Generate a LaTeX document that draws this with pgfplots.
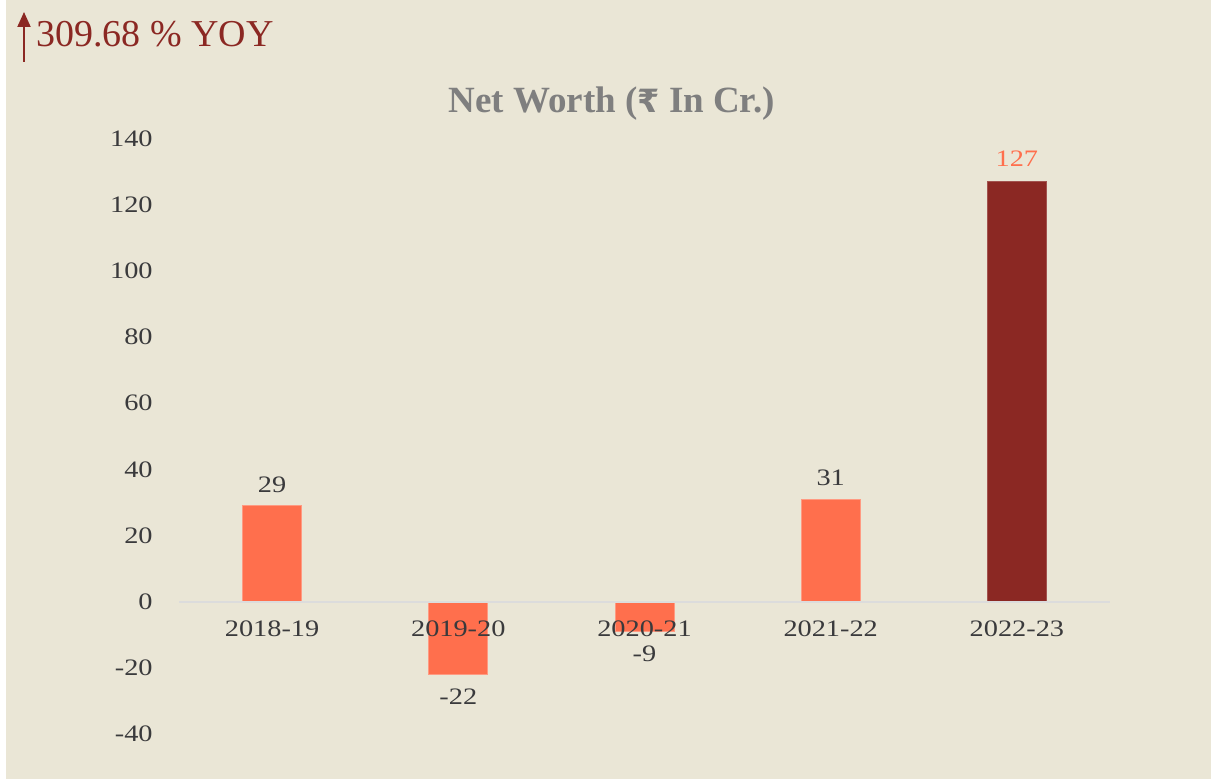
\documentclass[border=0pt]{standalone}
\usepackage{pgfplots}
\pgfplotsset{compat=1.18}
\usepackage{fontspec}
\setmainfont{Liberation Serif}
\newfontfamily\datafont[FakeStretch=1.2]{Liberation Serif}
\newfontfamily\rupeefont{DejaVu Sans}
\usetikzlibrary{arrows.meta}
\definecolor{bg}{RGB}{234,230,214}
\definecolor{barO}{RGB}{255,111,77}
\definecolor{barD}{RGB}{139,40,35}
\definecolor{txt}{RGB}{58,58,60}
\definecolor{ttl}{RGB}{127,127,127}
\definecolor{zl}{RGB}{220,220,220}
\begin{document}
\begin{tikzpicture}
\fill[white] (0,0) rectangle (605.5pt,390pt);
\useasboundingbox (0,0) rectangle (605.5pt,390pt);
\fill[bg] (3pt,0.5pt) rectangle (605.5pt,390pt);
\begin{axis}[
  at={(89.5pt,23pt)}, anchor=south west,
  scale only axis, width=465.5pt, height=297.7pt,
  xmin=-0.5, xmax=4.5, ymin=-40, ymax=140,
  ytick={-40,-20,...,140},
  xtick={0,1,2,3,4},
  xticklabels={2018-19,2019-20,2020-21,2021-22,2022-23},
  axis line style={draw=none},
  axis on top,
  major tick length=0pt, tick style={draw=none},
  ticklabel style={font=\datafont\fontsize{11.8}{14}\selectfont, text=txt},
  yticklabel style={anchor=east, inner sep=0pt, xshift=-13pt},
  xticklabel style={anchor=center, inner sep=0pt, yshift=52.5pt},
  /pgf/number format/assume math mode=true,
  extra y ticks={0}, extra y tick labels={},
  extra y tick style={grid=major, major grid style={draw=zl, line width=1pt}},
  ybar, bar width=29.5pt,
  clip=false,
  nodes near coords style={font=\datafont\fontsize{11.8}{14}\selectfont, text=txt, anchor=center},
]
\addplot[fill=barO, draw=barO!70!white, line width=0.4pt, bar shift=0pt,
  nodes near coords, nodes near coords style={yshift=10.5pt}]
  coordinates {(0,29) (3,31)};
\addplot[fill=barO, draw=barO!70!white, line width=0.4pt, bar shift=0pt,
  nodes near coords, nodes near coords style={yshift=-11pt}]
  coordinates {(1,-22) (2,-9)};
\addplot[fill=barD, draw=barD!80!white, line width=0.4pt, bar shift=0pt,
  nodes near coords, nodes near coords style={yshift=11.5pt, text=barO}]
  coordinates {(4,127)};
\end{axis}
\node[anchor=base, font=\bfseries\fontsize{18.5}{20}\selectfont, text=ttl] at (305.75pt,333.5pt) {Net Worth ({\rupeefont\fontsize{16}{18}\selectfont ₹} In Cr.)};
\node[anchor=base west, inner sep=0pt, font=\fontsize{19}{22}\selectfont, text=barD] at (18pt,366.5pt) {309.68 \% YOY};
\draw[barD, line width=1pt, -{Triangle[width=6.5pt,length=7.5pt]}] (12pt,359pt) -- (12pt,384pt);
\end{tikzpicture}
\end{document}
